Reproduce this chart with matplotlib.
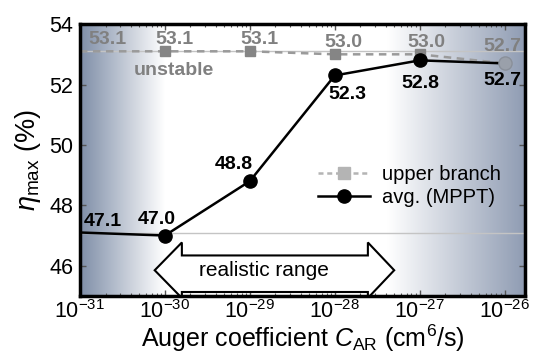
import numpy as np
import matplotlib
matplotlib.use("Agg")
import matplotlib.pyplot as plt
from matplotlib.patches import Polygon

plt.rcParams['font.family'] = ['Liberation Sans', 'DejaVu Sans']
plt.rcParams['mathtext.fontset'] = 'custom'
plt.rcParams['mathtext.rm'] = 'Liberation Sans'
plt.rcParams['mathtext.it'] = 'Liberation Sans:italic'

# data
c_ar = [1e-31, 1e-30, 1e-29, 1e-28, 1e-27, 1e-26]
upper_branch = [53.1, 53.1, 53.1, 53.0, 53.0, 52.7]
avg_mppt = [47.1, 47.0, 48.8, 52.3, 52.8, 52.7]
realistic = (1e-30, 1e-28)

fig = plt.figure(figsize=(5.33, 3.6), dpi=100)
ax = fig.add_axes([0.150, 0.178, 0.835, 0.755])
ax.set_xscale('log')
ax.set_xlim(1e-31, 10 ** -25.76)
ax.set_ylim(45, 54)

# background gradient (blue-grey at both ends)
edge_l = (0.50, 0.56, 0.66)
edge_r = (0.56, 0.61, 0.70)
xs = np.linspace(0, 1, 600)
rgb = np.ones((1, 600, 3))
for i, f in enumerate(xs):
    if f < 0.19:
        t = 1 - f / 0.19
        rgb[0, i] = [1 - t * (1 - c) for c in edge_l]
    elif f > 0.69:
        t = (f - 0.69) / 0.31
        rgb[0, i] = [1 - t * (1 - c) for c in edge_r]
ax.imshow(rgb, extent=[0, 1, 0, 1], transform=ax.transAxes, aspect='auto',
          zorder=0, interpolation='bilinear')

ax.axhline(upper_branch[0], color='#c4c4c4', lw=1, zorder=1)
ax.axhline(avg_mppt[0], color='#c4c4c4', lw=1, zorder=1)

ax.plot(c_ar, upper_branch, ls=(0, (3, 2.2)), color='#9a9a9a', lw=1.8,
        marker='s', ms=6.5, mfc='#858585', mec='#858585',
        markevery=[1, 2, 3, 4], zorder=3)
ax.plot(c_ar, avg_mppt, color='black', lw=1.8, marker='o', ms=9.5,
        markevery=[1, 2, 3, 4], zorder=4)
ax.plot(c_ar[-1:], avg_mppt[-1:], ls='none', marker='o', ms=9.5,
        mfc='#9aa0aa', mec='#8a909a', zorder=4)

# legend handles
h1, = ax.plot([], [], ls=(0, (2, 1.5)), color='#b4b4b4', lw=1.8, marker='s',
              ms=9, mfc='#b4b4b4', mec='#b4b4b4')
h2, = ax.plot([], [], color='black', lw=1.8, marker='o', ms=9.5)
ax.legend([h1, h2], ['upper branch', 'avg. (MPPT)'], loc='center left',
          bbox_to_anchor=(0.535, 0.405), frameon=False, fontsize=14.5,
          handlelength=2.6, handletextpad=0.6, labelspacing=0.2,
          borderpad=0, borderaxespad=0)

# value labels
up_off = [(27, 12), (10, 12), (10, 12), (9, 12), (7, 12), (-2, 17)]
av_off = [(23, 11), (-8, 16), (-16, 17), (13, -19), (1, -23), (-2, -17)]
for x, y, (dx, dy) in zip(c_ar, upper_branch, up_off):
    ax.annotate(f'{y:.1f}', (x, y), xytext=(dx * 0.72, dy * 0.72),
                textcoords='offset points', ha='center', va='center',
                fontsize=14, fontweight='bold', color='#808080',
                annotation_clip=False, zorder=6, clip_on=True)
for x, y, (dx, dy) in zip(c_ar, avg_mppt, av_off):
    ax.annotate(f'{y:.1f}', (x, y), xytext=(dx * 0.72, dy * 0.72),
                textcoords='offset points', ha='center', va='center',
                fontsize=14, fontweight='bold', color='black',
                annotation_clip=False, zorder=6, clip_on=True)
ax.text(10 ** -29.9, 52.48, 'unstable', ha='center', va='center',
        fontsize=14, fontweight='bold', color='#808080', zorder=6)

# realistic range double arrow
lo, hi = np.log10(realistic[0]), np.log10(realistic[1])
tl, bl, br, tr = lo - 0.12, lo + 0.2, hi + 0.39, hi + 0.7
yc, ht, sh_t, sh_b, hb = 45.85, 46.77, 46.34, 45.13, 44.93
verts = [(tl, yc), (bl, ht), (bl, sh_t), (br, sh_t), (br, ht), (tr, yc),
         (br, hb), (br, sh_b), (bl, sh_b), (bl, hb)]
verts = [(10 ** vx, vy) for vx, vy in verts]
ax.add_patch(Polygon(verts, closed=True, fc='white', ec='black', lw=1.5,
                     zorder=5, clip_on=True))
ax.text(10 ** ((lo + hi) / 2 + 0.17), yc, 'realistic range', ha='center',
        va='center', fontsize=15, zorder=6)

ax.set_yticks([46, 48, 50, 52, 54])
ax.set_xticks(c_ar)
ax.tick_params(which='both', direction='in', top=True, right=True,
               labelsize=15.5, pad=5)
ax.tick_params(axis='x', pad=3)
ax.tick_params(which='major', length=4, width=1, color='#555555')
ax.tick_params(which='minor', length=2.5, width=0.8, color='#555555')
for s in ax.spines.values():
    s.set_linewidth(2.5)
    s.set_zorder(7)

ax.set_xlabel(r'Auger coefficient $C_{\rm AR}$ (cm$^6$/s)', fontsize=18,
              labelpad=0)
ax.set_ylabel(r'$\eta_{\rm max}$ (%)', fontsize=19.5, labelpad=4)

fig.savefig('out.png', dpi=100)
